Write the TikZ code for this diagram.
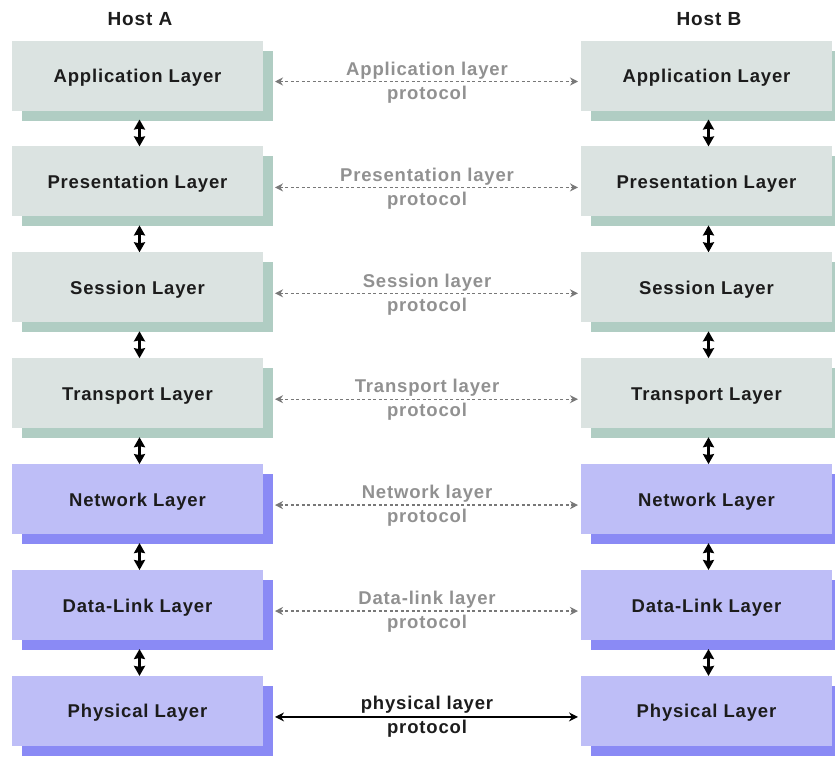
\documentclass[tikz,border=0pt]{standalone}
\usepackage{fontspec}
\setmainfont{Liberation Sans}
\newfontfamily\lbl[LetterSpace=4.5]{Liberation Sans}
\usetikzlibrary{shadows,calc,arrows.meta}
\definecolor{upfill}{RGB}{219,227,225}
\definecolor{upshadow}{RGB}{176,205,195}
\definecolor{lowfill}{RGB}{190,190,247}
\definecolor{lowshadow}{RGB}{138,138,245}
\definecolor{protgray}{RGB}{145,145,145}
\definecolor{arrgray}{RGB}{120,120,120}
\definecolor{txt}{RGB}{28,28,28}
\begin{document}
\begin{tikzpicture}[x=1pt,y=-1pt,
  layerbox/.style={minimum width=251pt,minimum height=70pt,inner sep=0pt,outer sep=0pt,
    text=txt,font=\lbl\bfseries\fontsize{18.5}{20}\selectfont,text height=14pt,text depth=0pt},
  upper/.style={layerbox,fill=upfill,
    drop shadow={shadow xshift=10pt,shadow yshift=-10pt,fill=upshadow,opacity=1}},
  lower/.style={layerbox,fill=lowfill,
    drop shadow={shadow xshift=10pt,shadow yshift=-10pt,fill=lowshadow,opacity=1}},
  hostlbl/.style={font=\lbl\bfseries\fontsize{19}{20}\selectfont,text=txt},
  prot/.style={align=center,text=protgray,font=\lbl\bfseries\fontsize{18.5}{24}\selectfont},
  protarrow/.style={draw=arrgray,line width=1.4pt,dash pattern=on 3pt off 2.5pt,
    {Stealth[length=8pt,width=8pt]}-{Stealth[length=8pt,width=8pt]}},
  physarrow/.style={draw=black,line width=1.4pt,
    {Stealth[length=9pt,width=9pt]}-{Stealth[length=9pt,width=9pt]}},
  vertarrow/.style={draw=black,line width=2.2pt,
    {Stealth[length=10pt,width=11pt,inset=1pt]}-{Stealth[length=10pt,width=11pt,inset=1pt]}}
]
\useasboundingbox (0,0) rectangle (835,756);
\fill[white] (0,0) rectangle (835,756);

\node[hostlbl] (hostA) at (140,19) {Host A};
\node[hostlbl] (hostB) at (709,19) {Host B};

\foreach \i/\nm/\st in {1/Application/upper,2/Presentation/upper,3/Session/upper,
  4/Transport/upper,5/Network/lower,6/Data-Link/lower,7/Physical/lower}{
  \node[\st] (a\i) at (137.5,{75.5+105.9*(\i-1)}) {\nm\ Layer};
  \node[\st] (b\i) at (706.5,{75.5+105.9*(\i-1)}) {\nm\ Layer};
}

\foreach \i/\txt in {1/Application,2/Presentation,3/Session,4/Transport,5/Network,6/Data-link}{
  \draw[protarrow] ($(a\i.east)+(12pt,-6pt)$) -- ($(b\i.west)+(-3pt,-6pt)$);
  \node[prot] (p\i) at ($(a\i.east)!0.5!(b\i.west)+(5pt,-7pt)$) {\txt\ layer\\protocol};
}
\draw[physarrow] ($(a7.east)+(12pt,-6pt)$) -- ($(b7.west)+(-3pt,-6pt)$);
\node[prot,text=txt] (p7) at ($(a7.east)!0.5!(b7.west)+(5pt,-6pt)$) {physical layer\\protocol};

\foreach \i [evaluate=\i as \j using int(\i+1)] in {1,...,6}{
  \draw[vertarrow] ($(a\i.south)+(2pt,-9pt)$) -- ($(a\j.north)+(2pt,0pt)$);
  \draw[vertarrow] ($(b\i.south)+(2pt,-9pt)$) -- ($(b\j.north)+(2pt,0pt)$);
}
\end{tikzpicture}
\end{document}
